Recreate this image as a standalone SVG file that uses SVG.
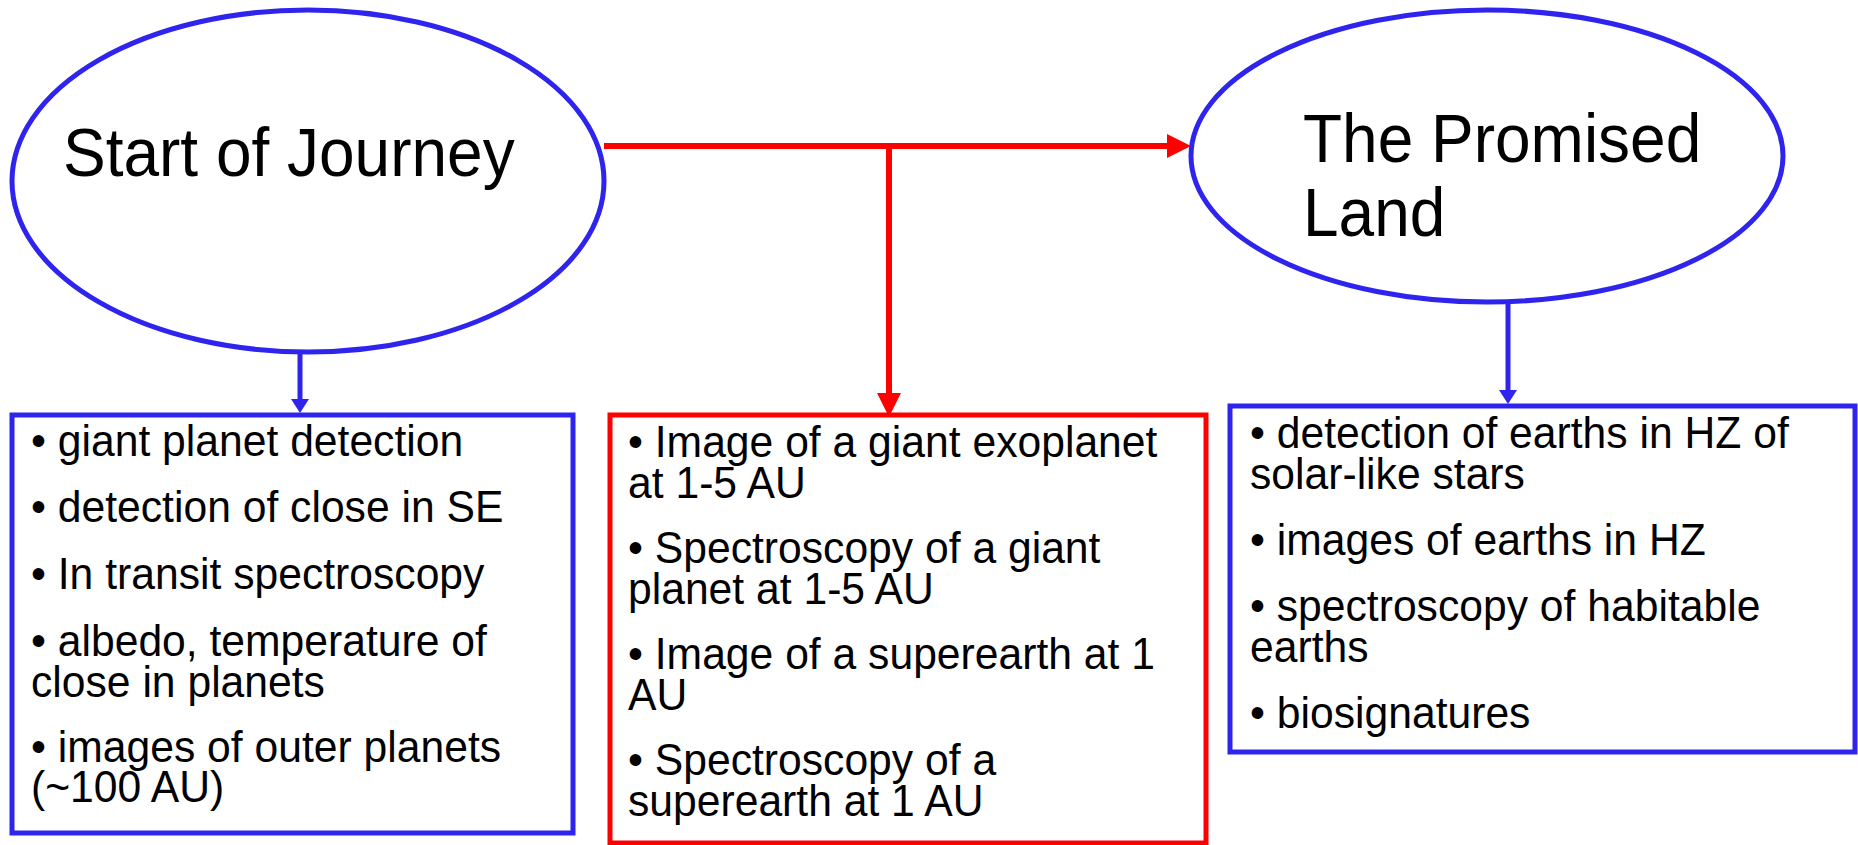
<svg xmlns="http://www.w3.org/2000/svg" width="1858" height="845" viewBox="0 0 1858 845">
<style>
.bg{fill:#ffffff}
.ell{fill:#ffffff;stroke:#2E24EE;stroke-width:5}
.boxb{fill:#ffffff;stroke:#2E24EE;stroke-width:5}
.boxr{fill:#ffffff;stroke:#FF0000;stroke-width:5}
.big{font-family:"Liberation Sans",Arial,sans-serif;font-size:68px;fill:#000000}
.t{font-family:"Liberation Sans",Arial,sans-serif;font-size:45px;fill:#000000}
.red{stroke:#FF0000;stroke-width:6;fill:none}
.blue{stroke:#2E24EE;stroke-width:5;fill:none}
</style>
<defs>
<marker id="arrRed" markerUnits="userSpaceOnUse" markerWidth="24" markerHeight="24" refX="0" refY="12" orient="auto">
<path d="M0,0 L24,12 L0,24 Z" fill="#FF0000"/>
</marker>
<marker id="arrBlue" markerUnits="userSpaceOnUse" markerWidth="14" markerHeight="18" refX="0" refY="9" orient="auto">
<path d="M0,0 L14,9 L0,18 Z" fill="#2E24EE"/>
</marker>
</defs>
<rect class="bg" x="0" y="0" width="1858" height="845"/>

<g id="connectors">
<line class="red" x1="604" y1="146" x2="1167" y2="146" marker-end="url(#arrRed)"/>
<line class="red" x1="889" y1="146" x2="889" y2="393" marker-end="url(#arrRed)"/>
<line class="blue" x1="300" y1="352" x2="300" y2="399" marker-end="url(#arrBlue)"/>
<line class="blue" x1="1508" y1="302" x2="1508" y2="390" marker-end="url(#arrBlue)"/>
</g>

<g id="start">
<ellipse class="ell" cx="308" cy="181" rx="296" ry="171"/>
<g transform="translate(63 0) scale(0.941 1)">
<text class="big" x="0" y="176">Start of Journey</text>
</g>
</g>

<g id="promised">
<ellipse class="ell" cx="1487" cy="156" rx="296" ry="146"/>
<g transform="translate(1303 0) scale(0.941 1)">
<text class="big" x="0" y="162">The Promised</text>
<text class="big" x="0" y="236">Land</text>
</g>
</g>

<g id="box-start">
<rect class="boxb" x="12" y="415" width="561" height="418"/>
<g transform="translate(31 0) scale(0.948 1)">
<text class="t" x="0" y="456">• giant planet detection</text>
<text class="t" x="0" y="522">• detection of close in SE</text>
<text class="t" x="0" y="589">• In transit spectroscopy</text>
<text class="t" x="0" y="656">• albedo, temperature of</text>
<text class="t" x="0" y="697">close in planets</text>
<text class="t" x="0" y="762">• images of outer planets</text>
<text class="t" x="0" y="802">(~100 AU)</text>
</g>
</g>

<g id="box-middle">
<rect class="boxr" x="610" y="415" width="596" height="428"/>
<g transform="translate(628 0) scale(0.948 1)">
<text class="t" x="0" y="457">• Image of a giant exoplanet</text>
<text class="t" x="0" y="498">at 1-5 AU</text>
<text class="t" x="0" y="563">• Spectroscopy of a giant</text>
<text class="t" x="0" y="604">planet at 1-5 AU</text>
<text class="t" x="0" y="669">• Image of a superearth at 1</text>
<text class="t" x="0" y="710">AU</text>
<text class="t" x="0" y="775">• Spectroscopy of a</text>
<text class="t" x="0" y="816">superearth at 1 AU</text>
</g>
</g>

<g id="box-promised">
<rect class="boxb" x="1230" y="406" width="625" height="346"/>
<g transform="translate(1250 0) scale(0.948 1)">
<text class="t" x="0" y="448">• detection of earths in HZ of</text>
<text class="t" x="0" y="489">solar-like stars</text>
<text class="t" x="0" y="555">• images of earths in HZ</text>
<text class="t" x="0" y="621">• spectroscopy of habitable</text>
<text class="t" x="0" y="662">earths</text>
<text class="t" x="0" y="728">• biosignatures</text>
</g>
</g>
</svg>
